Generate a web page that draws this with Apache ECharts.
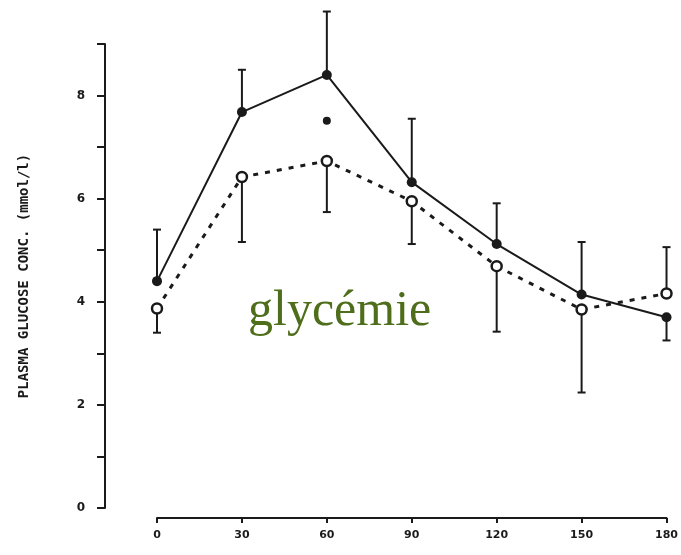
<!DOCTYPE html>
<html>
<head>
<meta charset="utf-8">
<script src="https://cdn.jsdelivr.net/npm/echarts@6/dist/echarts.min.js"></script>
<style>
html,body{margin:0;padding:0;background:#fff;}
#c{width:681px;height:555px;}
</style>
</head>
<body>
<div id="c"></div>
<script>
// time after load (min)
var times = [0, 30, 60, 90, 120, 150, 180];
// solid line, filled circles (mmol/l)
var solidMean = [4.40, 7.68, 8.40, 6.32, 5.12, 4.14, 3.70];
var solidErr  = [1.00, 0.82, 1.23, 1.23, 0.79, 1.02, 0.45];
var solidDir  = [1, 1, 1, 1, 1, 1, -1];
// dashed line, open circles (mmol/l)
var openMean  = [3.87, 6.42, 6.73, 5.95, 4.69, 3.85, 4.16];
var openErr   = [0.47, 1.26, 0.99, 0.83, 1.27, 1.61, 0.90];
var openDir   = [-1, -1, -1, -1, -1, -1, 1];
// significance marker
var sigTimes  = [60];
var sigValues = [7.51];
// axis ticks
var yTickLabels = ['0', '2', '4', '6', '8'];
var xTickLabels = ['0', '30', '60', '90', '120', '150', '180'];
var yTitle = 'PLASMA GLUCOSE CONC. (mmol/l)';
var overlayText = 'glycémie';

function pairs(xs, ys) { return xs.map(function (x, i) { return [x, ys[i]]; }); }
function errData(xs, m, e, d) {
  return xs.map(function (x, i) { return [x, m[i], m[i] + d[i] * e[i]]; });
}
function errRender(params, api) {
  var p0 = api.coord([api.value(0), api.value(1)]);
  var p1 = api.coord([api.value(0), api.value(2)]);
  var w = 4;
  return {
    type: 'group',
    children: [
      { type: 'line', shape: { x1: p0[0], y1: p0[1], x2: p1[0], y2: p1[1] },
        style: { stroke: '#1a1a1a', lineWidth: 2 } },
      { type: 'line', shape: { x1: p1[0] - w, y1: p1[1], x2: p1[0] + w, y2: p1[1] },
        style: { stroke: '#1a1a1a', lineWidth: 2 } }
    ]
  };
}

var chart = echarts.init(document.getElementById('c'));
chart.setOption({
  backgroundColor: '#ffffff',
  animation: false,
  grid: { left: 157, right: 12, top: 44, bottom: 47 },
  xAxis: {
    type: 'value', min: 0, max: 180, interval: 30,
    offset: 10,
    axisLine: { onZero: false, lineStyle: { color: '#1a1a1a', width: 2 } },
    axisTick: { show: true, length: 5, lineStyle: { color: '#1a1a1a', width: 2 } },
    axisLabel: {
      margin: 12, color: '#1a1a1a', fontSize: 11, fontWeight: 'bold',
      fontFamily: 'DejaVu Sans',
      formatter: function (v) { var i = times.indexOf(v); return i >= 0 ? xTickLabels[i] : ''; }
    },
    splitLine: { show: false }
  },
  yAxis: {
    type: 'value', min: 0, max: 9, interval: 1,
    offset: 52,
    name: yTitle, nameLocation: 'middle', nameGap: 74, nameRotate: 90,
    nameTextStyle: { color: '#1a1a1a', fontSize: 14, fontWeight: 'bold', fontFamily: 'DejaVu Sans Mono' },
    axisLine: { show: true, onZero: false, lineStyle: { color: '#1a1a1a', width: 2 } },
    axisTick: { show: true, length: 8, lineStyle: { color: '#1a1a1a', width: 2 } },
    axisLabel: {
      margin: 20, color: '#1a1a1a', fontSize: 12, fontWeight: 'bold', fontFamily: 'DejaVu Sans',
      formatter: function (v) { return (v % 2 === 0) ? yTickLabels[v / 2] : ''; }
    },
    splitLine: { show: false }
  },
  graphic: [{
    type: 'text', left: 248, top: 287, silent: true,
    style: { text: overlayText, fill: '#4e6e1c', font: '50px "Liberation Serif", serif' }
  }],
  series: [
    { type: 'custom', renderItem: errRender, clip: false, z: 1,
      data: errData(times, solidMean, solidErr, solidDir) },
    { type: 'custom', renderItem: errRender, clip: false, z: 1,
      data: errData(times, openMean, openErr, openDir) },
    { type: 'line', data: pairs(times, openMean), z: 2,
      lineStyle: { color: '#1a1a1a', width: 3, type: [5, 7] },
      symbol: 'circle', symbolSize: 10,
      itemStyle: { color: '#ffffff', borderColor: '#1a1a1a', borderWidth: 2.5 } },
    { type: 'line', data: pairs(times, solidMean), z: 3,
      lineStyle: { color: '#1a1a1a', width: 2 },
      symbol: 'circle', symbolSize: 10,
      itemStyle: { color: '#1a1a1a', borderWidth: 0 } },
    { type: 'scatter', data: pairs(sigTimes, sigValues), z: 3,
      symbol: 'circle', symbolSize: 8, itemStyle: { color: '#1a1a1a', opacity: 1 } }
  ]
});
</script>
</body>
</html>
